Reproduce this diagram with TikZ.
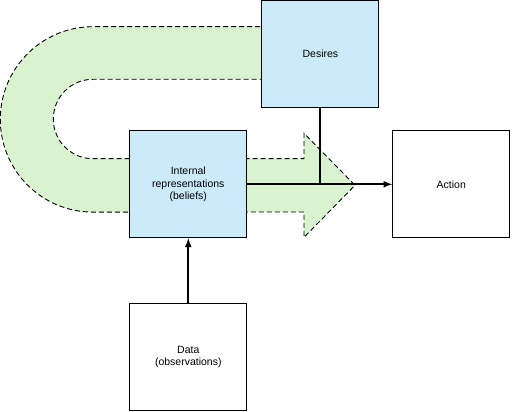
\documentclass[tikz,border=0pt]{standalone}
\usepackage{fontspec}
\setmainfont{Liberation Sans}
\definecolor{boxblue}{HTML}{CCEBFA}
\definecolor{bandgreen}{HTML}{D9F2D0}
\begin{document}
\begin{tikzpicture}[>=latex,x=1pt,y=1pt,
    box/.style={draw,line width=0.9pt,minimum width=117pt,minimum height=107pt,
        align=center,font=\fontsize{10.5}{12.3}\selectfont},
    link/.style={line width=2pt}]
    \useasboundingbox (0,0) rectangle (512,412);
    
    \draw[fill=bandgreen,dash pattern=on 5pt off 3pt,line width=0.9pt]
        (300,385.3)--(93,385.3) arc[start angle=90,end angle=270,radius=92.7]
        --(304,200)--(304,174.7)--(355,226.7)--(304,278.7)--(304,253.3)
        --(93,253.3) arc[start angle=270,end angle=90,radius=39.7]
        --(300,332.7)--cycle;
    
    \node[box,fill=boxblue] (desires) at (320.4,358) {Desires};
    \node[box,fill=boxblue] (beliefs) at (188.3,227.7) {Internal\\representations\\(beliefs)};
    \node[box,fill=white] (action) at (451.3,227.7) {Action};
    \node[box,fill=white] (data) at (188.3,55) {Data\\(observations)};
    
    \draw[link,->] (beliefs.east)--(action.west);
    \draw[link] (desires.south)--(desires.south|-beliefs.east);
    \draw[link,->] (data.north)--(beliefs.south);
    
\end{tikzpicture}
\end{document}
